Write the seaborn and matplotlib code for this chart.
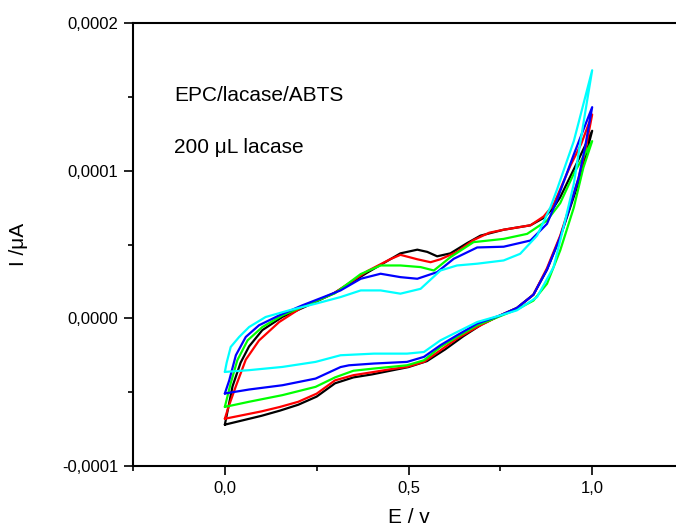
import numpy as np
import pandas as pd
import matplotlib
matplotlib.use("Agg")
import matplotlib.pyplot as plt
import seaborn as sns
from matplotlib.ticker import FixedLocator

# ---- data (current in units of 1e-4 A) ----
series_names = ["black", "red", "green", "blue", "cyan"]
series_colors = ["#000000", "#FF0000", "#00FF00", "#0000FF", "#00FFFF"]

black_fwd_E = [0, 0.021, 0.043, 0.066, 0.102, 0.157, 0.22, 0.297, 0.388, 0.478, 0.524, 0.551, 0.578, 0.614, 0.66, 0.696, 0.759, 0.832, 0.868, 0.895, 0.913, 0.958, 1.0]
black_fwd_I = [-0.72, -0.46, -0.30, -0.19, -0.08, 0.01, 0.08, 0.17, 0.31, 0.44, 0.465, 0.45, 0.42, 0.44, 0.51, 0.56, 0.60, 0.63, 0.68, 0.75, 0.82, 1.05, 1.27]
black_rev_E = [1.0, 0.98, 0.963, 0.94, 0.913, 0.877, 0.84, 0.795, 0.75, 0.70, 0.65, 0.60, 0.55, 0.50, 0.45, 0.40, 0.35, 0.30, 0.25, 0.20, 0.15, 0.10, 0.05, 0.0]
black_rev_I = [1.27, 1.08, 0.92, 0.75, 0.55, 0.33, 0.16, 0.07, 0.02, -0.04, -0.12, -0.21, -0.29, -0.33, -0.355, -0.38, -0.40, -0.44, -0.53, -0.585, -0.625, -0.66, -0.69, -0.72]

red_fwd_E = [0, 0.01, 0.03, 0.057, 0.093, 0.148, 0.211, 0.297, 0.388, 0.45, 0.478, 0.524, 0.56, 0.587, 0.632, 0.677, 0.72, 0.759, 0.832, 0.868, 0.895, 0.94, 0.97, 1.0]
red_fwd_I = [-0.68, -0.60, -0.46, -0.28, -0.15, -0.025, 0.076, 0.17, 0.32, 0.40, 0.43, 0.40, 0.38, 0.40, 0.45, 0.53, 0.58, 0.60, 0.63, 0.69, 0.77, 1.03, 1.18, 1.38]
red_rev_E = [1.0, 0.98, 0.963, 0.94, 0.913, 0.877, 0.84, 0.795, 0.75, 0.687, 0.632, 0.587, 0.542, 0.496, 0.45, 0.406, 0.35, 0.30, 0.25, 0.2, 0.15, 0.1, 0.05, 0]
red_rev_I = [1.38, 1.12, 0.95, 0.77, 0.56, 0.34, 0.16, 0.07, 0.02, -0.059, -0.137, -0.216, -0.295, -0.329, -0.345, -0.363, -0.385, -0.42, -0.51, -0.565, -0.60, -0.63, -0.655, -0.68]

green_fwd_E = [0, 0.016, 0.034, 0.062, 0.102, 0.157, 0.22, 0.30, 0.37, 0.424, 0.478, 0.533, 0.569, 0.614, 0.677, 0.759, 0.823, 0.877, 0.913, 0.95, 1.0]
green_fwd_I = [-0.6, -0.44, -0.284, -0.149, -0.059, 0.02, 0.088, 0.17, 0.30, 0.358, 0.358, 0.347, 0.324, 0.414, 0.516, 0.538, 0.572, 0.662, 0.78, 0.98, 1.2]
green_rev_E = [1.0, 0.976, 0.95, 0.913, 0.877, 0.84, 0.795, 0.75, 0.687, 0.632, 0.587, 0.542, 0.496, 0.406, 0.35, 0.30, 0.247, 0.157, 0.066, 0]
green_rev_I = [1.2, 1.02, 0.75, 0.46, 0.234, 0.12, 0.06, 0.015, -0.047, -0.126, -0.194, -0.284, -0.318, -0.34, -0.355, -0.40, -0.464, -0.52, -0.565, -0.6]

blue_fwd_E = [0, 0.012, 0.03, 0.057, 0.093, 0.148, 0.211, 0.315, 0.37, 0.424, 0.478, 0.524, 0.578, 0.623, 0.687, 0.759, 0.832, 0.877, 0.904, 0.95, 1.0]
blue_fwd_I = [-0.509, -0.42, -0.25, -0.126, -0.047, 0.02, 0.088, 0.189, 0.268, 0.302, 0.279, 0.268, 0.313, 0.403, 0.48, 0.485, 0.527, 0.64, 0.80, 1.11, 1.43]
blue_rev_E = [1.0, 0.98, 0.963, 0.94, 0.913, 0.877, 0.84, 0.795, 0.75, 0.687, 0.632, 0.587, 0.542, 0.496, 0.406, 0.338, 0.315, 0.247, 0.157, 0.066, 0]
blue_rev_I = [1.43, 1.15, 0.95, 0.76, 0.55, 0.33, 0.16, 0.07, 0.02, -0.036, -0.115, -0.182, -0.261, -0.295, -0.306, -0.318, -0.33, -0.408, -0.453, -0.482, -0.509]

cyan_fwd_E = [0, 0.005, 0.016, 0.039, 0.066, 0.111, 0.175, 0.247, 0.315, 0.37, 0.424, 0.478, 0.533, 0.587, 0.632, 0.687, 0.759, 0.804, 0.85, 0.886, 0.904, 0.95, 1.0]
cyan_fwd_I = [-0.363, -0.30, -0.194, -0.126, -0.059, 0.009, 0.054, 0.099, 0.144, 0.189, 0.189, 0.167, 0.2, 0.324, 0.358, 0.37, 0.392, 0.437, 0.56, 0.75, 0.87, 1.2, 1.68]
cyan_rev_E = [1.0, 0.986, 0.967, 0.95, 0.922, 0.895, 0.85, 0.795, 0.75, 0.687, 0.632, 0.587, 0.542, 0.496, 0.406, 0.315, 0.247, 0.157, 0.066, 0]
cyan_rev_I = [1.68, 1.47, 1.18, 0.91, 0.617, 0.347, 0.144, 0.054, 0.02, -0.025, -0.093, -0.149, -0.228, -0.239, -0.239, -0.25, -0.295, -0.329, -0.351, -0.363]

x_ticks = [0.0, 0.5, 1.0]
x_tick_labels = ["0,0", "0,5", "1,0"]
y_ticks = [-1e-4, 0.0, 1e-4, 2e-4]
y_tick_labels = ["-0,0001", "0,0000", "0,0001", "0,0002"]

# ---- build table ----
curves = {
    "black": (black_fwd_E + black_rev_E, black_fwd_I + black_rev_I),
    "red": (red_fwd_E + red_rev_E, red_fwd_I + red_rev_I),
    "green": (green_fwd_E + green_rev_E, green_fwd_I + green_rev_I),
    "blue": (blue_fwd_E + blue_rev_E, blue_fwd_I + blue_rev_I),
    "cyan": (cyan_fwd_E + cyan_rev_E, cyan_fwd_I + cyan_rev_I),
}
rows = []
for name in series_names:
    E, I = curves[name]
    for k, (e, i) in enumerate(zip(E, I)):
        rows.append({"E": e, "I": i * 1e-4, "curve": name, "k": k})
df = pd.DataFrame(rows)

sns.set_style("ticks")
plt.rcParams["font.family"] = ["Liberation Sans", "DejaVu Sans"]
plt.rcParams["text.color"] = "black"
plt.rcParams["axes.labelcolor"] = "black"

fig = plt.figure(figsize=(6.76, 5.29), dpi=100)
ax = fig.add_axes([133 / 676, 1 - 466 / 529, (684 - 133) / 676, (466 - 23) / 529])

sns.lineplot(data=df, x="E", y="I", hue="curve", hue_order=series_names,
             palette=dict(zip(series_names, series_colors)),
             sort=False, estimator=None, legend=False, linewidth=1.6, ax=ax)

ax.set_xlim(-0.25, 1.25)
ax.set_ylim(-1e-4, 2e-4)

ax.xaxis.set_major_locator(FixedLocator(x_ticks))
ax.set_xticklabels(x_tick_labels)
ax.xaxis.set_minor_locator(FixedLocator([-0.25, 0.25, 0.75, 1.25]))
ax.yaxis.set_major_locator(FixedLocator(y_ticks))
ax.set_yticklabels(y_tick_labels)
ax.yaxis.set_minor_locator(FixedLocator([-0.5e-4, 0.5e-4, 1.5e-4]))

for s in ["left", "bottom", "top"]:
    ax.spines[s].set_visible(True)
    ax.spines[s].set_linewidth(1.5)
    ax.spines[s].set_color("black")
ax.spines["right"].set_visible(False)

ax.tick_params(axis="both", which="major", direction="out", length=6.5, width=1.2,
               labelsize=12, colors="black", labelcolor="black", pad=4)
ax.tick_params(axis="both", which="minor", direction="out", length=3.5, width=1.2, colors="black")
ax.tick_params(top=False, right=False, which="both")

ax.set_xlabel("E / v", fontsize=15, color="black")
ax.set_ylabel("I /μA", fontsize=15, color="black")
ax.xaxis.set_label_coords(0.5, -0.095)
ax.xaxis.label.set_va("top")
ax.yaxis.set_label_coords(-0.19, 0.5)

ax.text(-0.139, 1.473e-4, "EPC/lacase/ABTS", fontsize=15, ha="left", va="baseline", color="black")
ax.text(-0.139, 1.122e-4, "200 μL lacase", fontsize=15, ha="left", va="baseline", color="black")

fig.savefig("out.png", dpi=100)
